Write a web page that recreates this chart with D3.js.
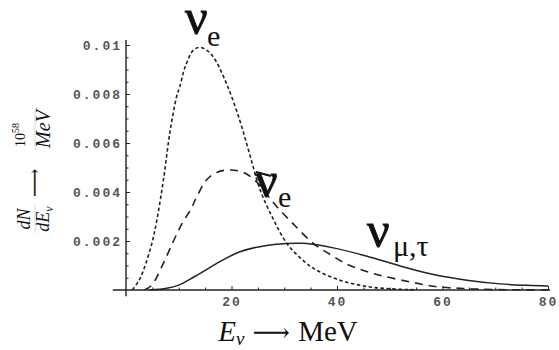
<!DOCTYPE html>
<html>
<head>
<meta charset="utf-8">
<script src="https://cdn.jsdelivr.net/npm/d3@7"></script>
<style>
  html, body { margin: 0; padding: 0; background: #fff; }
  svg { display: block; }
  .tick text { font-family: "Liberation Mono", "DejaVu Sans Mono", monospace; font-weight: bold; fill: #555; font-size: 13px; letter-spacing: 2px; }
  .tick line { stroke: #222; }
</style>
</head>
<body>
<svg id="chart" width="559" height="350"></svg>
<script>
// Neutrino energy spectra dN/dE (units of 10^58 per MeV) against energy E (MeV)
const nueE   = [1.2, 2.5, 3.3, 4.9, 5.8, 7.1, 8.3, 9.6, 10.2, 11.2, 12.8, 14.0, 15.2, 16.6, 19.1, 21.6, 23.5, 25.4, 27.9, 30.5, 33.6, 36.2, 40.6, 45.7, 50, 55];
const nueN   = [0, 0.0004, 0.0008, 0.0019, 0.0028, 0.0045, 0.0064, 0.0079, 0.0083, 0.0091, 0.0098, 0.0099, 0.0098, 0.0095, 0.0084, 0.0069, 0.0055, 0.0041, 0.0029, 0.0019, 0.0012, 0.0008, 0.0004, 0.00014, 0.00005, 0.00001];

const nuebarE = [3.5, 4.9, 7.1, 9.0, 10.6, 12.3, 13.4, 15.3, 17.2, 19.7, 22.3, 24.8, 26.7, 28.6, 31.7, 35.5, 38.7, 41.9, 45, 48.5, 53.9, 58.3, 64, 70, 80];
const nuebarN = [0, 0.0002, 0.0011, 0.0020, 0.0027, 0.0033, 0.0038, 0.0045, 0.0048, 0.0049, 0.0048, 0.0044, 0.0039, 0.0034, 0.0027, 0.0019, 0.00145, 0.00105, 0.0008, 0.00058, 0.00033, 0.00015, 0.00006, 0.00002, 0];

const numuE  = [4.5, 7.7, 10, 12.8, 15, 17.2, 21.6, 26.1, 30.5, 33, 34.3, 39.3, 45.7, 52, 58.3, 64.6, 71, 76, 80];
const numuN  = [0, 0.00007, 0.0002, 0.00052, 0.0008, 0.00109, 0.00156, 0.0018, 0.0019, 0.00191, 0.0019, 0.00172, 0.00138, 0.00098, 0.00063, 0.0004, 0.00025, 0.00019, 0.00016];

const xMajor = [20, 40, 60, 80];
const xMinor = [5, 10, 15, 25, 30, 35, 45, 50, 55, 65, 70, 75];
const yMajor = [0.002, 0.004, 0.006, 0.008, 0.01];
const yMinor = [0.0005, 0.001, 0.0015, 0.0025, 0.003, 0.0035, 0.0045, 0.005, 0.0055, 0.0065, 0.007, 0.0075, 0.0085, 0.009, 0.0095];
const yLabels = ["0.002", "0.004", "0.006", "0.008", "0.01"];

const svg = d3.select("#chart");
const x = d3.scaleLinear().domain([0, 80]).range([126, 548]);
const y = d3.scaleLinear().domain([0, 0.01]).range([290, 45]);

// axis lines crossing at the origin
svg.append("line").attr("x1", x(-2.5)).attr("x2", x(80.4)).attr("y1", y(0)).attr("y2", y(0))
  .attr("stroke", "#222").attr("stroke-width", 1.4);
svg.append("line").attr("x1", x(0)).attr("x2", x(0)).attr("y1", y(-0.00025)).attr("y2", y(0.0102))
  .attr("stroke", "#222").attr("stroke-width", 1.4);

// x ticks (inward)
const gx = svg.append("g").attr("transform", `translate(0,${y(0)})`);
gx.call(d3.axisBottom(x).tickValues(xMajor).tickSize(-4).tickPadding(7).tickFormat(d3.format("d")));
gx.append("g").call(d3.axisBottom(x).tickValues(xMinor).tickSize(-2.5).tickFormat(""));
gx.selectAll(".domain").remove();

// y ticks (inward)
const gy = svg.append("g").attr("transform", `translate(${x(0)},0)`);
gy.call(d3.axisLeft(y).tickValues(yMajor).tickSize(-4).tickPadding(4).tickFormat((d, i) => yLabels[i]));
gy.append("g").call(d3.axisLeft(y).tickValues(yMinor).tickSize(-2.5).tickFormat(""));
gy.selectAll(".domain").remove();
svg.selectAll(".tick text").attr("font-size", null);

const line = d3.line().x(d => x(d[0])).y(d => y(d[1])).curve(d3.curveCatmullRom.alpha(0.5));

svg.append("path").datum(d3.zip(nueE, nueN)).attr("d", line)
  .attr("fill", "none").attr("stroke", "#222").attr("stroke-width", 1.6).attr("stroke-dasharray", "3.5,2.5");
svg.append("path").datum(d3.zip(nuebarE, nuebarN)).attr("d", line)
  .attr("fill", "none").attr("stroke", "#222").attr("stroke-width", 1.6).attr("stroke-dasharray", "8,6");
svg.append("path").datum(d3.zip(numuE, numuN)).attr("d", line)
  .attr("fill", "none").attr("stroke", "#222").attr("stroke-width", 1.5);

// curve labels
const serif = "'Liberation Serif', 'DejaVu Serif', serif";
function nuLabel(px, py, sub, subX, subY) {
  svg.append("text").attr("x", px).attr("y", py)
    .attr("font-family", serif).attr("font-size", 50).attr("fill", "#111")
    .attr("stroke", "#111").attr("stroke-width", 0.9).text("ν");
  svg.append("text").attr("x", subX).attr("y", subY)
    .attr("font-family", serif).attr("font-size", 30).attr("fill", "#111").text(sub);
}
nuLabel(185, 34, "e", 207, 46);
nuLabel(255, 197, "e", 278, 207);
svg.append("line").attr("x1", 256).attr("y1", 172).attr("x2", 271).attr("y2", 176)
  .attr("stroke", "#111").attr("stroke-width", 2.2);
nuLabel(367, 247, "μ,τ", 393, 256);

// x-axis title
const xt = svg.append("text").attr("x", 288).attr("y", 341).attr("text-anchor", "middle")
  .attr("font-family", serif).attr("font-size", 29).attr("fill", "#111");
xt.append("tspan").attr("font-style", "italic").text("E");
xt.append("tspan").attr("font-style", "italic").attr("font-size", 19).attr("dy", 4).text("ν");
xt.append("tspan").attr("dy", -4).attr("font-family", "'DejaVu Serif', serif").attr("font-size", 26).text(" ⟶ ");
xt.append("tspan").text("MeV");

// y-axis title, rotated, built from two stacked fractions
const yt = svg.append("g").attr("transform", "translate(35,170) rotate(-90)")
  .attr("font-family", serif).attr("fill", "#111");
yt.append("text").attr("x", -49).attr("y", -5).attr("text-anchor", "middle")
  .attr("font-style", "italic").attr("font-size", 18).text("dN");
const den = yt.append("text").attr("x", -49).attr("y", 14).attr("text-anchor", "middle")
  .attr("font-style", "italic").attr("font-size", 18);
den.append("tspan").text("dE");
den.append("tspan").attr("font-size", 12).attr("dy", 4).text("ν");
yt.append("line").attr("x1", -63).attr("x2", -35).attr("y1", 0).attr("y2", 0)
  .attr("stroke", "#ccc").attr("stroke-width", 0.8);
yt.append("text").attr("x", -13).attr("y", 6).attr("text-anchor", "middle")
  .attr("font-family", "'DejaVu Serif', serif").attr("font-size", 20).text("⟶");
const num = yt.append("text").attr("x", 35).attr("y", -10).attr("text-anchor", "middle").attr("font-size", 14);
num.append("tspan").text("10");
num.append("tspan").attr("font-size", 10).attr("dy", -6).text("58");
yt.append("line").attr("x1", 20).attr("x2", 60).attr("y1", 0).attr("y2", 0)
  .attr("stroke", "#ccc").attr("stroke-width", 0.8);
yt.append("text").attr("x", 41).attr("y", 15).attr("text-anchor", "middle")
  .attr("font-style", "italic").attr("font-size", 20).text("MeV");
</script>
</body>
</html>
